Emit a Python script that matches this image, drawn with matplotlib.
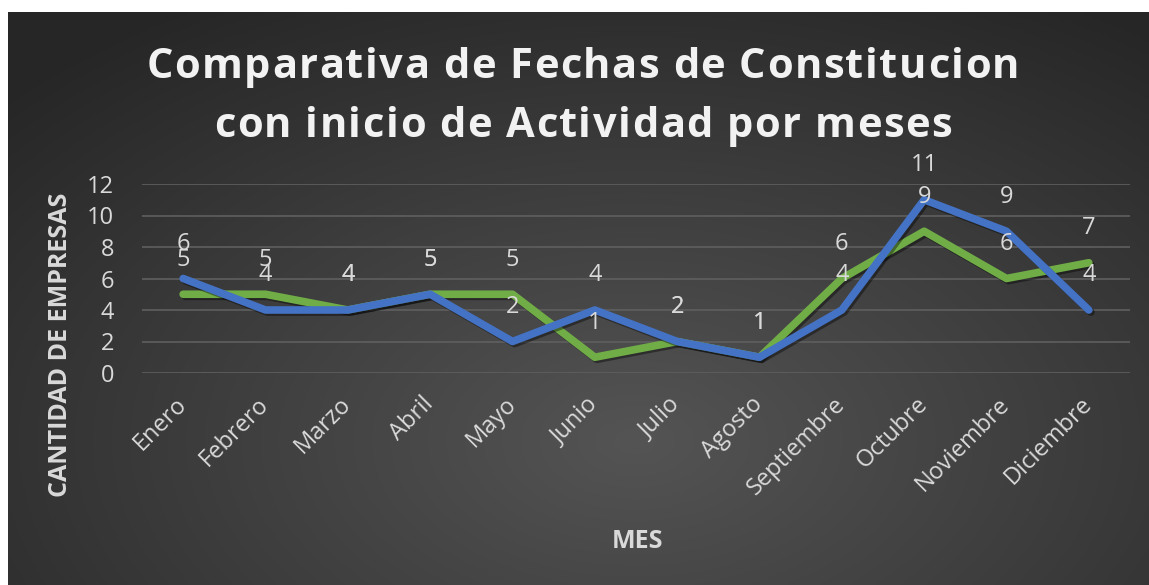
import numpy as np
import matplotlib.pyplot as plt
import matplotlib.patheffects as pe
from matplotlib.font_manager import FontProperties
from matplotlib.textpath import text_to_path

meses = ["Enero", "Febrero", "Marzo", "Abril", "Mayo", "Junio", "Julio",
         "Agosto", "Septiembre", "Octubre", "Noviembre", "Diciembre"]
constitucion = [5, 5, 4, 5, 5, 1, 2, 1, 6, 9, 6, 7]
inicio_actividad = [6, 4, 4, 5, 2, 4, 2, 1, 4, 11, 9, 4]
y_ticks = [0, 2, 4, 6, 8, 10, 12]
titulo = ["Comparativa de Fechas de Constitucion",
          "con inicio de Actividad por meses"]

FONT = "Open Sans"
TXT = "#d9d9d9"
W, H = 1149, 585

fig = plt.figure(figsize=(W / 100, H / 100), dpi=100)
fig.patch.set_facecolor("white")

# dark radial background
bg = fig.add_axes([8 / W, 0, 1 - 8 / W, 1 - 12 / H])
gx, gy = np.meshgrid(np.linspace(0, 1, 400), np.linspace(0, 1, 200))
r = np.sqrt(((gx - 0.55) / 0.75) ** 2 + ((gy - 0.25) / 0.9) ** 2)
r = np.clip(r, 0, 1)
shade = 0.33 - 0.18 * r
bg.imshow(np.dstack([shade, shade, shade]), extent=[0, 1, 0, 1], origin="lower",
          aspect="auto", interpolation="bilinear")
bg.set_axis_off()

ax = fig.add_axes([142 / W, 1 - 373 / H, (1130 - 142) / W, (373 - 184) / H])
ax.set_facecolor("none")

x = np.arange(len(meses))
shadow = [pe.SimpleLineShadow(offset=(1.5, -1.5), shadow_color="black", alpha=0.4), pe.Normal()]
ax.plot(x, constitucion, color="#70ad47", lw=5.5, solid_capstyle="round",
        solid_joinstyle="round", zorder=3, path_effects=shadow)
ax.plot(x, inicio_actividad, color="#4472c4", lw=5.5, solid_capstyle="round",
        solid_joinstyle="round", zorder=4, path_effects=shadow)

for serie in (constitucion, inicio_actividad):
    for xi, v in zip(x, serie):
        ax.annotate(str(v), (xi, v), xytext=(0, 25), textcoords="offset points",
                    ha="center", va="center", fontsize=17, color=TXT,
                    family=FONT, zorder=5)

ax.set_xlim(-0.5, len(meses) - 0.5)
ax.set_ylim(0, 12)
ax.set_yticks(y_ticks)
ax.grid(axis="y", color="#5f5f5f", lw=1.2)
ax.set_axisbelow(True)
for s in ax.spines.values():
    s.set_visible(False)
ax.tick_params(length=0, colors=TXT, labelsize=17)
ax.tick_params(axis="y", pad=20)
ax.set_xticks(x)
ax.set_xticklabels(meses, rotation=45, ha="right", va="center",
                   rotation_mode="anchor", family=FONT)
ax.tick_params(axis="x", pad=20)
for t in ax.get_yticklabels():
    t.set_family(FONT)

fig.text(61 / W, 1 - 345 / H, "CANTIDAD DE EMPRESAS", rotation=90,
         ha="center", va="center", fontsize=18, fontweight="bold", color=TXT, family=FONT)
fig.text(637 / W, 1 - 542 / H, "MES", ha="center", va="center",
         fontsize=18, fontweight="bold", color=TXT, family=FONT)

# title with wide letter spacing
prop = FontProperties(family=FONT, weight="bold", size=30)
def width_px(s):
    w, _, _ = text_to_path.get_text_width_height_descent(s, prop, ismath=False)
    return w * fig.dpi / 72

track = (873 - width_px(titulo[0])) / (len(titulo[0]) - 1)
for line, base in zip(titulo, (78, 137)):
    total = width_px(line) + track * (len(line) - 1)
    x0 = 583 - total / 2
    for i, ch in enumerate(line):
        if ch == " ":
            continue
        xp = x0 + width_px(line[:i]) + track * i
        fig.text(xp / W, 1 - base / H, ch, ha="left", va="baseline",
                 fontproperties=prop, color="#f2f2f2")

fig.savefig("out.png", dpi=100)
